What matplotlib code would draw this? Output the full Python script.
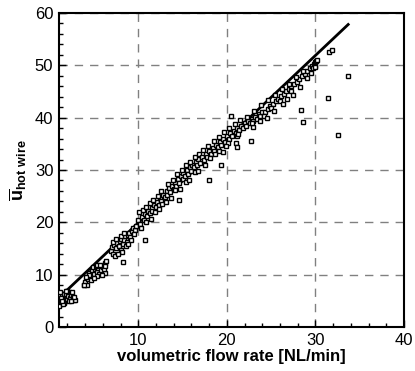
import matplotlib
matplotlib.use("Agg")
import matplotlib.pyplot as plt
from matplotlib.ticker import MultipleLocator

plt.rcParams['font.family'] = ['Liberation Sans', 'DejaVu Sans']
plt.rcParams['mathtext.fontset'] = 'custom'
plt.rcParams['mathtext.rm'] = 'Liberation Sans'
plt.rcParams['mathtext.bf'] = 'Liberation Sans:bold'

# measured points (flow rate [NL/min], hot-wire velocity)
flow = [
    1.0, 1.1, 1.2, 1.3, 1.4, 1.5, 1.6, 1.7, 1.8, 1.9, 2.0, 2.1, 2.2, 2.3, 2.4, 2.6, 2.7, 2.9, 1.0, 1.3, 1.6, 2.0, 1.1,
    1.2, 1.5, 1.8, 2.2, 2.5, 2.8, 1.4, 2.4,
    3.9, 4.0, 4.3, 4.5, 4.6, 4.8, 5.0, 5.1, 5.3, 5.5, 5.6, 5.8, 6.0, 6.2, 5.4, 4.9, 6.1, 5.2, 6.2, 6.4,
    4.2, 4.4, 4.7, 5.0, 5.3, 5.7, 5.9, 6.3, 4.1,
    6.9, 7.0, 7.2, 7.3, 7.5, 7.6, 7.8, 7.9, 8.0, 8.1, 8.3, 8.4, 8.5, 8.7, 8.8, 9.0, 9.1, 9.3, 9.4, 9.6, 8.2, 7.4,
    7.1, 7.7, 8.0, 8.6, 8.9, 9.2, 9.5, 7.5, 8.4,
    9.8, 10.0, 10.2, 10.4, 10.6, 10.8, 11.0, 11.1, 11.3, 11.5, 11.6, 11.8, 12.0, 12.1, 12.3, 12.5, 12.6, 12.8, 13.0, 10.9, 11.9, 12.7,
    10.1, 10.5, 10.9, 11.3, 11.7, 12.2, 12.6, 10.3, 11.4, 12.4, 13.1,
    13.2, 13.3, 13.5, 13.6, 13.8, 14.0, 14.1, 14.3, 14.5, 14.6, 14.8, 15.0, 15.1, 15.3, 15.5, 15.6, 15.8, 16.0, 16.1, 16.3, 16.5, 16.6, 16.8, 17.0, 14.2, 15.4, 16.4,
    13.4, 13.9, 14.4, 14.9, 15.4, 15.9, 16.4, 16.9, 13.7, 14.7, 15.7, 16.7,
    17.2, 17.4, 17.6, 17.8, 18.0, 18.2, 18.4, 18.6, 18.8, 19.0, 19.2, 19.4, 19.6, 19.8, 20.0, 20.2, 20.4, 20.6, 20.8, 21.0, 21.2, 21.4, 21.6, 21.8, 22.0, 18.1, 19.1, 20.1, 21.1,
    17.3, 17.9, 18.5, 19.1, 19.7, 20.3, 20.9, 21.5, 17.5, 18.7, 19.9, 21.3,
    22.2, 22.4, 22.6, 22.8, 23.0, 23.2, 23.4, 23.6, 23.8, 24.0, 24.3, 24.6, 24.9, 25.2, 25.5, 25.8, 26.1, 26.4, 26.7, 27.0, 27.3, 27.6, 27.9, 28.2, 28.5, 28.8, 29.1, 29.4, 29.6, 29.8, 30.0, 30.1, 29.9, 29.7, 24.2, 25.0, 26.0, 27.2,
    22.3, 23.1, 23.9, 24.7, 25.4, 26.2, 27.0, 27.8, 28.6, 22.9, 23.7, 24.5, 25.3, 26.3, 27.5, 28.3, 29.0, 29.5, 30.2, 30.0,
    31.5, 31.9, 33.7, 31.4, 28.4, 28.6, 32.5, 26.8, 22.8, 22.7, 20.5, 21.0, 21.1, 19.4, 18.0, 19.6, 14.6, 10.8, 8.3, 3.9,
]
u_hot_wire = [
    4.5, 5.2, 5.8, 4.9, 6.1, 5.4, 6.3, 5.0, 5.7, 6.4, 5.3, 6.0, 6.6, 5.6, 6.2, 5.8, 5.2, 5.1, 6.0, 5.5, 4.6, 6.9, 4.1,
    6.6, 4.3, 6.9, 4.9, 6.7, 5.7, 5.0, 5.0,
    8.0, 8.6, 9.2, 10.3, 9.6, 10.8, 10.1, 11.0, 10.5, 11.3, 10.2, 10.9, 11.5, 10.4, 9.7, 11.4, 11.1, 11.6, 12.2, 12.6,
    8.1, 9.9, 8.9, 9.3, 11.9, 11.8, 9.9, 11.6, 9.5,
    14.6, 15.2, 14.0, 15.7, 15.0, 16.0, 15.4, 16.5, 14.8, 16.9, 15.9, 16.7, 17.3, 16.2, 17.6, 18.0, 17.2, 18.4, 18.9, 18.6, 14.3, 13.6,
    16.3, 13.9, 17.4, 15.5, 15.8, 16.6, 17.8, 16.8, 18.0,
    19.3, 20.4, 19.7, 21.0, 20.5, 21.6, 21.2, 22.1, 21.7, 22.8, 22.2, 23.4, 23.0, 23.9, 23.4, 24.6, 24.1, 25.2, 24.8, 20.1, 21.9, 23.5,
    21.9, 22.3, 23.0, 23.6, 24.3, 25.0, 25.9, 19.0, 20.6, 22.6, 23.9,
    25.9, 25.2, 26.5, 25.8, 27.0, 26.4, 27.6, 27.0, 28.3, 27.6, 28.8, 28.2, 29.4, 28.8, 30.0, 29.3, 30.6, 29.9, 31.0, 30.5, 31.6, 30.9, 32.1, 31.4, 26.1, 27.8, 29.6,
    27.4, 28.1, 29.2, 30.0, 30.9, 31.6, 32.5, 33.1, 24.6, 26.4, 28.0, 29.8,
    32.4, 31.9, 33.0, 32.5, 33.6, 33.0, 34.2, 33.6, 34.8, 34.3, 35.3, 34.8, 35.9, 35.4, 36.5, 36.0, 37.0, 36.5, 37.5, 37.1, 38.0, 37.6, 38.5, 38.1, 39.0, 32.2, 33.7, 35.2, 36.4,
    33.8, 34.6, 35.5, 36.3, 37.2, 38.1, 38.8, 39.6, 30.9, 33.0, 34.6, 36.8,
    38.5, 39.3, 38.9, 39.8, 39.4, 40.2, 39.8, 40.7, 40.3, 41.1, 41.0, 41.6, 42.2, 42.7, 43.1, 43.6, 44.1, 44.6, 45.0, 45.5, 46.0, 46.5, 46.9, 47.4, 47.9, 48.4, 48.9, 49.4, 49.8, 50.2, 50.6, 50.9, 49.9, 49.5, 40.4, 41.8, 43.2, 45.0,
    40.2, 41.3, 42.4, 43.3, 44.3, 45.4, 46.5, 47.7, 48.9, 38.2, 39.3, 40.0, 41.2, 42.6, 44.3, 45.8, 47.6, 48.6, 51.1, 49.6,
    52.6, 53.0, 48.0, 43.8, 41.4, 39.2, 36.6, 43.6, 38.9, 35.6, 40.3, 35.1, 34.4, 31.0, 28.1, 33.5, 24.3, 16.6, 12.5, 8.0,
]

# fitted line end points
fit_flow = [1.0, 33.7]
fit_u = [5.5, 57.8]

fig = plt.figure(figsize=(4.15, 3.71), dpi=100)
ax = fig.add_axes([0.142, 0.1186, 0.8315, 0.8464])

ax.plot(fit_flow, fit_u, color='black', lw=2.0, zorder=3)
ax.plot(flow, u_hot_wire, ls='none', marker='s', ms=3.0, mfc='white', mec='black', mew=1.0, zorder=4)

ax.set_xlim(1.05, 40)
ax.set_ylim(0, 60)
ax.xaxis.set_major_locator(MultipleLocator(10))
ax.xaxis.set_minor_locator(MultipleLocator(2))
ax.yaxis.set_major_locator(MultipleLocator(10))
ax.yaxis.set_minor_locator(MultipleLocator(2))
ax.tick_params(which='both', direction='in', top=False, right=False, labelsize=12, width=1.0, color='black')
ax.tick_params(which='major', length=5, pad=4)
ax.tick_params(which='minor', length=3)

ax.grid(True, which='major', color='#808080', linestyle=(0, (6, 5)), linewidth=1.0)
ax.set_axisbelow(True)
for sp in ax.spines.values():
    sp.set_linewidth(1.5)

ax.set_xlabel('volumetric flow rate [NL/min]', fontsize=12, fontweight='bold', labelpad=1)
ax.set_ylabel(r'$\overline{\mathbf{u}}_{\mathbf{hot\ wire}}$', fontsize=13, labelpad=4)

fig.savefig('out.png', dpi=100)
